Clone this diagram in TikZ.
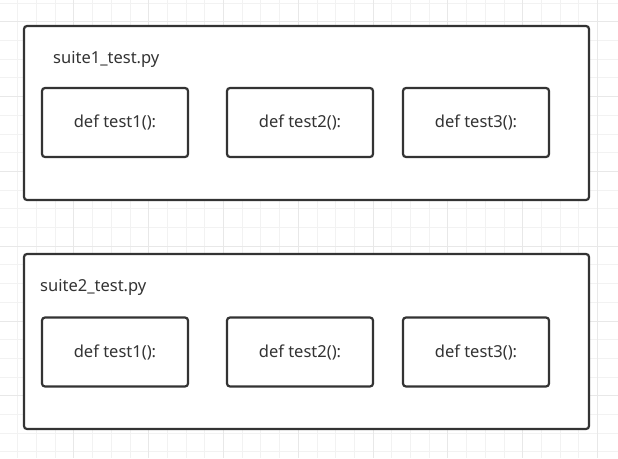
\documentclass[tikz,border=0pt]{standalone}
\usepackage{fontspec}
\setmainfont{Noto Sans}
\begin{document}
\begin{tikzpicture}[x=1pt,y=-1pt,
  outerbox/.style={draw=black!80,line width=2.2pt,rounded corners=3pt,fill=white},
  innerbox/.style={draw=black!80,line width=2.2pt,rounded corners=3pt,fill=white,minimum width=146pt,minimum height=69pt,inner sep=0pt,font=\fontsize{16.5}{19}\selectfont,text=black!80},
  filelabel/.style={anchor=west,inner sep=0pt,font=\fontsize{16.5}{19}\selectfont,text=black!80},
  minorgrid/.style={draw=black!5,line width=0.8pt},
  majorgrid/.style={draw=black!9,line width=0.8pt}]
\useasboundingbox (0,0) rectangle (618,458);
\fill[white] (0,0) rectangle (618,458);
% grid
\foreach \k in {0,...,32} {
  \pgfmathsetmacro{\xx}{-1+18.7*\k}
  \draw[minorgrid] (\xx,0) -- (\xx,458);
}
\foreach \k in {-1,...,24} {
  \pgfmathsetmacro{\yy}{21.7+18.7*\k}
  \draw[minorgrid] (0,\yy) -- (618,\yy);
}
\foreach \k in {0,...,8} {
  \pgfmathsetmacro{\xx}{-1+74.8*\k}
  \draw[majorgrid] (\xx,0) -- (\xx,458);
}
\foreach \k in {0,...,6} {
  \pgfmathsetmacro{\yy}{21.7+74.8*\k}
  \draw[majorgrid] (0,\yy) -- (618,\yy);
}
% suite 1
\draw[outerbox] (24,26) rectangle (589,200);
\node[filelabel] (s1) at (53,59.5) {suite1\_test.py};
\node[innerbox] (a1) at (115,122.5) {def test1():};
\node[innerbox] (a2) at (300,122.5) {def test2():};
\node[innerbox] (a3) at (476,122.5) {def test3():};
% suite 2
\draw[outerbox] (24,254) rectangle (589,429);
\node[filelabel] (s2) at (40,287.5) {suite2\_test.py};
\node[innerbox] (b1) at (115,352) {def test1():};
\node[innerbox] (b2) at (300,352) {def test2():};
\node[innerbox] (b3) at (476,352) {def test3():};
\end{tikzpicture}
\end{document}
